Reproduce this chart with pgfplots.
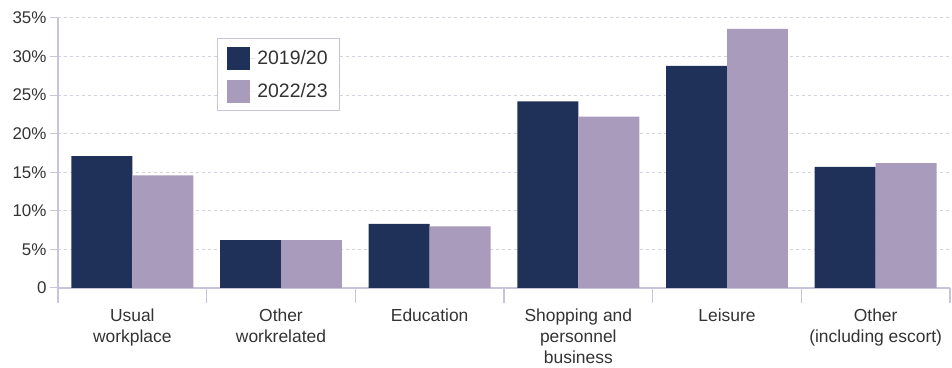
\documentclass[border=0pt]{standalone}
\usepackage{fontspec}
\setmainfont{Liberation Sans}
\usepackage{pgfplots}
\pgfplotsset{compat=1.18}
\definecolor{dark}{HTML}{1F3158}
\definecolor{light}{HTML}{A99BBB}
\definecolor{axisc}{HTML}{C8C4D9}
\definecolor{gridc}{HTML}{D4D2DE}
\definecolor{txt}{HTML}{333333}
\begin{document}
\begin{tikzpicture}
\begin{axis}[
  scale only axis, width=892bp, height=270bp,
  ybar=0pt, bar width=0.41,
  xmin=-0.5, xmax=5.5, ymin=0, ymax=35,
  axis x line*=bottom, axis y line*=left,
  axis line style={axisc, line width=1.3bp},
  tick align=outside,
  xtick={0,1,2,3,4,5},
  xticklabels={Usual\\workplace, Other\\workrelated, Education, Shopping and\\personnel\\business, Leisure, Other\\(including escort)},
  x tick label style={align=center, font=\fontsize{17.5}{21.5}\selectfont, text=txt, anchor=north, yshift=-9bp},
  major x tick style={draw=none},
  minor xtick={-0.5,0.5,1.5,2.5,3.5,4.5,5.5},
  minor x tick style={axisc, line width=1.3bp},
  minor tick length=15bp,
  ytick={0,5,10,15,20,25,30,35},
  yticklabels={0,5\%,10\%,15\%,20\%,25\%,30\%,35\%},
  y tick label style={font=\fontsize{17}{20}\selectfont, text=txt},
  major tick length=8bp,
  major y tick style={axisc, line width=1bp},
  ymajorgrids,
  grid style={gridc, line width=1bp, dash pattern=on 3bp off 3bp},
  legend style={at={(0.178,0.926)}, anchor=north west, draw=axisc, line width=1.2bp,
    font=\fontsize{19.5}{23}\selectfont, text=txt, inner xsep=10bp, inner ysep=8bp,
    row sep=10bp},
  legend cell align=left,
  legend image code/.code={\path[#1] (0bp,-11.5bp) rectangle (23bp,11.5bp); \path (0bp,0bp) -- (28bp,0bp);},
  clip=false,
]
\addplot[fill=dark, draw=none] coordinates {(0,17.1) (1,6.2) (2,8.3) (3,24.2) (4,28.8) (5,15.7)};
\addplot[fill=light, draw=none] coordinates {(0,14.6) (1,6.2) (2,8.0) (3,22.2) (4,33.6) (5,16.2)};
\legend{2019/20, 2022/23}
\end{axis}
\path (current axis.south west) +(-58bp,-79bp) rectangle +(894bp,288bp);
\end{tikzpicture}
\end{document}
